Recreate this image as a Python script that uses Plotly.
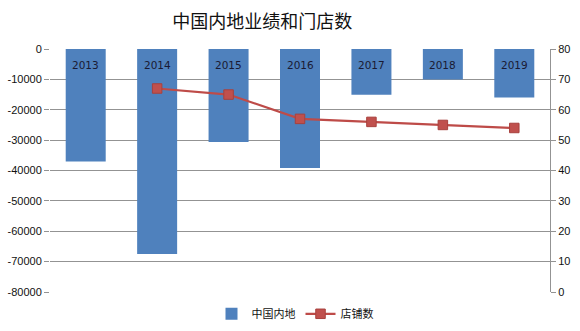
import plotly.graph_objects as go

# Mainland China performance (bars, left axis) and store count (line, right axis)
years = ["2013", "2014", "2015", "2016", "2017", "2018", "2019"]
mainland = [-37000, -67500, -30600, -39200, -15100, -10000, -16000]
store_years = ["2014", "2015", "2016", "2017", "2018", "2019"]
stores = [67, 65, 57, 56, 55, 54]

left_ticks = [0, -10000, -20000, -30000, -40000, -50000, -60000, -70000, -80000]
right_ticks = [0, 10, 20, 30, 40, 50, 60, 70, 80]

FONT = "Noto Sans CJK SC, Liberation Sans, sans-serif"
TICKFONT = dict(family="Liberation Sans, DejaVu Sans", size=11, color="#111111")

fig = go.Figure()

fig.add_trace(go.Bar(
    x=years, y=mainland, name="中国内地",
    marker=dict(color="#4F81BD", line=dict(width=0)),
    yaxis="y",
))

fig.add_trace(go.Scatter(
    x=store_years, y=stores, name="店铺数", mode="lines+markers",
    line=dict(color="#BE4B48", width=2.2),
    marker=dict(symbol="square", size=9.5, color="#C0504D",
                line=dict(color="#A8403D", width=1)),
    yaxis="y2",
))

# year labels just inside the top of each bar (category index positions)
for i, yr in enumerate(years):
    fig.add_annotation(x=i, y=0, xref="x", yref="y", text=yr,
                       showarrow=False, yanchor="top", yshift=-8,
                       font=dict(family="DejaVu Sans", size=10.5, color="#1A1A33"))

fig.update_layout(
    width=580, height=331,
    margin=dict(l=50, r=30, t=49, b=39, autoexpand=False),
    paper_bgcolor="white", plot_bgcolor="white",
    title=dict(text="中国内地业绩和门店数", x=0.452, xanchor="center",
               y=0.935, yanchor="middle",
               font=dict(family=FONT, size=18, color="#111111")),
    bargap=0.44,
    showlegend=True,
    legend=dict(orientation="h", x=0.49, xanchor="center", y=-0.03,
                yanchor="top", font=dict(family=FONT, size=11, color="#111111"),
                itemwidth=30, tracegroupgap=0),
    xaxis=dict(type="category", categoryorder="array", categoryarray=years,
               showticklabels=False, showgrid=False,
               zeroline=False, showline=False, ticks=""),
    yaxis=dict(range=[-80000, 0], tickvals=left_ticks,
               ticktext=[str(v) for v in left_ticks],
               showgrid=True, gridcolor="#939393", gridwidth=1,
               zeroline=False, showline=False,
               ticks="outside", ticklen=5, tickcolor="#939393",
               tickfont=TICKFONT),
    yaxis2=dict(range=[0, 80], tickvals=right_ticks, overlaying="y",
                side="right", showgrid=False, zeroline=False,
                showline=True, linecolor="#939393", linewidth=1,
                ticks="outside", ticklen=5, tickcolor="#939393",
                tickfont=TICKFONT),
)

fig.write_html("out.html")
